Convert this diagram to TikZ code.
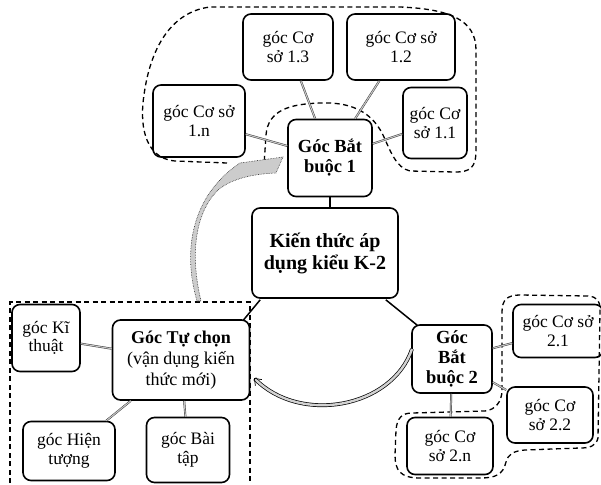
\documentclass[tikz,border=0pt]{standalone}
\usepackage{fontspec}
\setmainfont{Liberation Serif}
\usetikzlibrary{arrows.meta}
\begin{document}
\begin{tikzpicture}[x=1pt,y=-1pt,
  box/.style={draw, line width=1.6pt, rounded corners=8pt, align=center, inner sep=1pt},
  sat/.style={box, font=\fontsize{17.5}{18.5}\selectfont},
  mainbox/.style={box, font=\bfseries\fontsize{18.5}{20}\selectfont},
  hlink/.style={draw=black!80, line width=0.45pt, double=gray!45, double distance=1.1pt},
  dashblob/.style={draw, line width=1.3pt, dash pattern=on 5pt off 3.5pt},
  solidlink/.style={draw, line width=1.5pt},
  swoosh/.style={draw=black!85, line width=0.6pt, densely dotted, fill=gray!40}
]
\useasboundingbox (0,0) rectangle (601,484);

% dashed outlines
\draw[dashblob] (227,163) -- (175,161) .. controls (142,158) and (140,120) .. (144,95)
  .. controls (150,50) and (170,12) .. (210,7) -- (400,7)
  .. controls (450,9) and (476,20) .. (476,50) -- (476,150)
  .. controls (476,168) and (470,172) .. (455,172) -- (410,171)
  .. controls (396,168) and (390,150) .. (383,135)
  .. controls (370,108) and (345,102) .. (320,103)
  .. controls (290,104) and (268,110) .. (266,135) -- (264,165);
\draw[dashblob] (502,390) -- (502,312) .. controls (502,300) and (507,295) .. (520,295)
  -- (588,296) .. controls (597,297) and (600,300) .. (600,310) -- (598,438)
  .. controls (596,446) and (590,448) .. (580,448) -- (525,450)
  .. controls (512,451) and (508,455) .. (506,462)
  .. controls (503,475) and (495,478) .. (480,478) -- (420,478)
  .. controls (400,478) and (395,470) .. (395,455) -- (396,430)
  .. controls (397,418) and (402,413) .. (412,413) -- (485,411)
  .. controls (495,410) and (502,402) .. (502,390);
\draw[dashblob] (10,483) -- (10,302) -- (250,302) -- (250,483);

% nodes
\node[sat, minimum width=90pt, minimum height=66pt] (s13) at (288,47) {góc Cơ\\sở 1.3};
\node[sat, minimum width=108pt, minimum height=66pt] (s12) at (401,47) {góc Cơ sở\\1.2};
\node[sat, minimum width=92pt, minimum height=72pt] (s1n) at (199,121) {góc Cơ sở\\1.n};
\node[sat, minimum width=64pt, minimum height=71pt] (s11) at (435,123) {góc Cơ\\sở 1.1};
\node[mainbox, minimum width=84pt, minimum height=77pt] (b1) at (330,158) {Góc Bắt\\buộc 1};
\node[box, font=\bfseries\fontsize{20}{22}\selectfont, minimum width=146pt, minimum height=90pt] (k2) at (325,253) {Kiến thức áp\\dụng kiểu K-2};
\node[box, font=\fontsize{18}{21}\selectfont, minimum width=137pt, minimum height=80pt] (tc) at (181,360) {\textbf{Góc Tự chọn}\\(vận dụng kiến\\thức mới)};
\node[sat, minimum width=68pt, minimum height=67pt] (kt) at (46,338) {góc Kĩ\\thuật};
\node[sat, minimum width=92pt, minimum height=59pt] (ht) at (69,451) {góc Hiện\\tượng};
\node[sat, minimum width=83pt, minimum height=65pt] (bt) at (188,450) {góc Bài\\tập};
\node[mainbox, minimum width=80pt, minimum height=68pt] (b2) at (452,359) {Góc\\Bắt\\buộc 2};
\node[sat, minimum width=90pt, minimum height=53pt] (s21) at (558,331) {góc Cơ sở\\2.1};
\node[sat, minimum width=86pt, minimum height=56pt] (s22) at (550,415) {góc Cơ\\sở 2.2};
\node[sat, minimum width=86pt, minimum height=57pt] (s2n) at (450,446) {góc Cơ\\sở 2.n};

% gray links
\draw[hlink] (s13) -- (b1);
\draw[hlink] (s12) -- (b1);
\draw[hlink] (s1n) -- (b1);
\draw[hlink] (s11) -- (b1);
\draw[hlink] (kt) -- (tc);
\draw[hlink] (ht) -- (tc);
\draw[hlink] (bt) -- (tc);
\draw[hlink] (s21) -- (b2);
\draw[hlink] (s22) -- (b2);
\draw[hlink] (s2n) -- (b2);

% solid links
\draw[solidlink] (b1.south) -- (b1.south |- k2.north);
\draw[solidlink] ([xshift=9pt,yshift=-1pt]k2.south west) -- ([xshift=-7pt,yshift=-1pt]tc.north east);
\draw[solidlink] ([xshift=-13pt,yshift=-1pt]k2.south east) -- ([xshift=6pt,yshift=-1pt]b2.north west);

% curved arrows
\coordinate (a1) at (197,301);
\draw[swoosh] (a1) .. controls (182,250) and (192,195) .. (240,163) -- (283,157) -- (276,173)
  .. controls (250,174) and (228,180) .. (216,192) .. controls (195,215) and (190,255) .. (201,301) -- cycle;
\coordinate (a2) at (412,349);
\draw[draw=black, line width=0.7pt, double=gray!35, double distance=2.4pt, -{Straight Barb[length=6pt,width=9pt]}]
  (a2) .. controls (392,408) and (300,425) .. (254,378);
\end{tikzpicture}
\end{document}
